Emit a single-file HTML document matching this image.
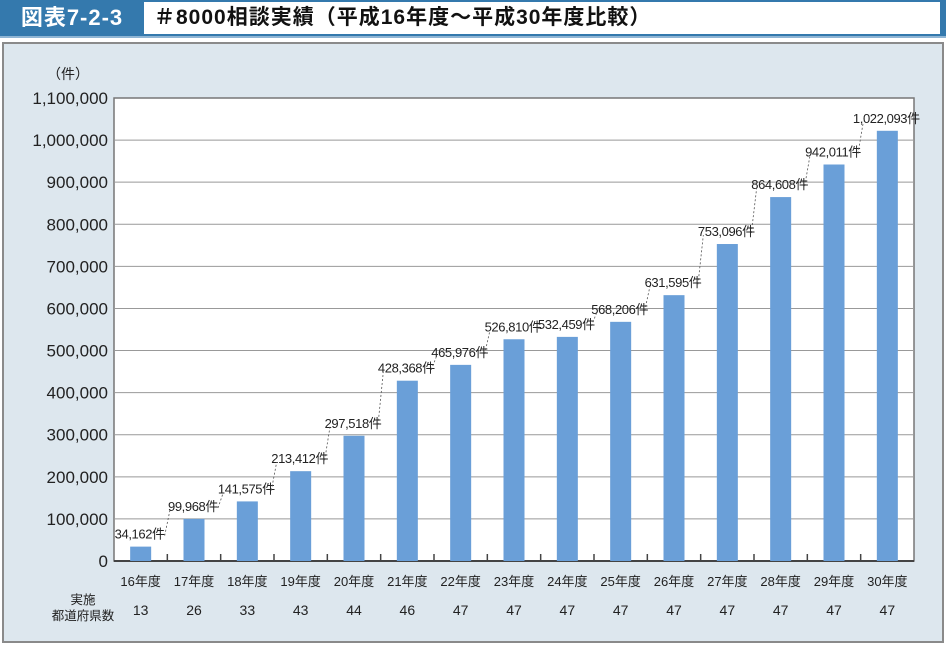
<!DOCTYPE html>
<html><head><meta charset="utf-8">
<style>
body{margin:0;width:946px;height:648px;background:#fff;font-family:"Liberation Sans","Noto Sans CJK JP",sans-serif;overflow:hidden;position:relative}
#hdr{position:absolute;left:0;top:0;width:946px;height:36px;background:#3479ad;border-bottom:2px solid #8fb5d4}
#lbl{position:absolute;left:0;top:0;width:144px;height:36px;color:#fff;font-size:22px;font-weight:bold;line-height:36px;text-align:center;letter-spacing:1px}
#ttl{position:absolute;left:144px;top:2px;width:786px;height:32px;background:#fff;font-size:21px;font-weight:bold;line-height:32px;padding-left:10px;color:#111;letter-spacing:1px}
#panel{position:absolute;left:2px;top:42px;width:938px;height:597px;background:#dde7ee;border:2px solid #8a8a8a}
svg{position:absolute;left:0;top:0}
</style></head><body>
<div id="hdr"></div>
<div id="lbl">図表7-2-3</div>
<div id="ttl">＃8000相談実績（平成16年度～平成30年度比較）</div>
<div id="panel"></div>
<svg id="chart" width="946" height="648"></svg>
<script>
const categories=["16年度","17年度","18年度","19年度","20年度","21年度","22年度","23年度","24年度","25年度","26年度","27年度","28年度","29年度","30年度"];
const values=[34162,99968,141575,213412,297518,428368,465976,526810,532459,568206,631595,753096,864608,942011,1022093];
const prefectures=[13,26,33,43,44,46,47,47,47,47,47,47,47,47,47];
const yTicks=[0,100000,200000,300000,400000,500000,600000,700000,800000,900000,1000000,1100000];
const L=114,R=914,T=98,B=561,YMAX=1100000;
const step=(R-L)/categories.length;
const x=i=>L+step*(i+0.5);
const y=v=>B-(B-T)*v/YMAX;
const svg=document.getElementById('chart');
const NS='http://www.w3.org/2000/svg';
function mk(tag,attrs,txt){const e=document.createElementNS(NS,tag);for(const k in attrs)e.setAttribute(k,attrs[k]);if(txt!==undefined)e.textContent=txt;svg.appendChild(e);return e;}
const plot=mk('rect',{x:L,y:T,width:R-L,height:B-T,fill:'#fff',stroke:'#777','stroke-width':1.5});


yTicks.forEach(t=>{
  if(t>0&&t<YMAX){const g=mk('line',{x1:L,x2:R,y1:y(t),y2:y(t),stroke:'#999','stroke-width':1});
  
  }
  const tl=mk('text',{x:L-6,y:y(t)+6,'text-anchor':'end','font-size':17,fill:'#222'},t.toLocaleString('en-US'));
  
  
});
const yt=mk('text',{x:68,y:79,'text-anchor':'middle','font-size':14,fill:'#222'},'（件）');


const ax=mk('line',{x1:L,x2:R,y1:B,y2:B,stroke:'#444','stroke-width':2});


for(let i=1;i<categories.length;i++){const tk=mk('line',{x1:L+step*i,x2:L+step*i,y1:B-7,y2:B,stroke:'#444','stroke-width':1.5});

}
const bw=21;
const lab=[];
values.forEach((v,i)=>{
  const b=mk('rect',{x:x(i)-bw/2,y:y(v),width:bw,height:B-y(v),fill:'#6a9fd8'});
  
  
  const ly=y(v)-8;
  const t=mk('text',{x:x(i)-1,y:ly,'text-anchor':'middle','font-size':13,'letter-spacing':'-0.4',fill:'#222'},v.toLocaleString('en-US')+'件');
  
  
  lab.push([x(i),ly]);
  const c=mk('text',{x:x(i),y:586,'text-anchor':'middle','font-size':13,fill:'#222'},categories[i]);
  
  
  const p=mk('text',{x:x(i),y:615,'text-anchor':'middle','font-size':14,fill:'#222'},String(prefectures[i]));
  
  
});
for(let i=0;i<lab.length-1;i++){
  const d=mk('line',{x1:lab[i][0]+24,y1:lab[i][1]-3,x2:lab[i+1][0]-24,y2:lab[i+1][1]-1,stroke:'#555','stroke-width':0.8,'stroke-dasharray':'2,2'});
  
  
}
const r1=mk('text',{x:83,y:604,'text-anchor':'middle','font-size':12.5,fill:'#222'},'実施');


const r2=mk('text',{x:83,y:620,'text-anchor':'middle','font-size':12.5,fill:'#222'},'都道府県数');


</script>
</body></html>
